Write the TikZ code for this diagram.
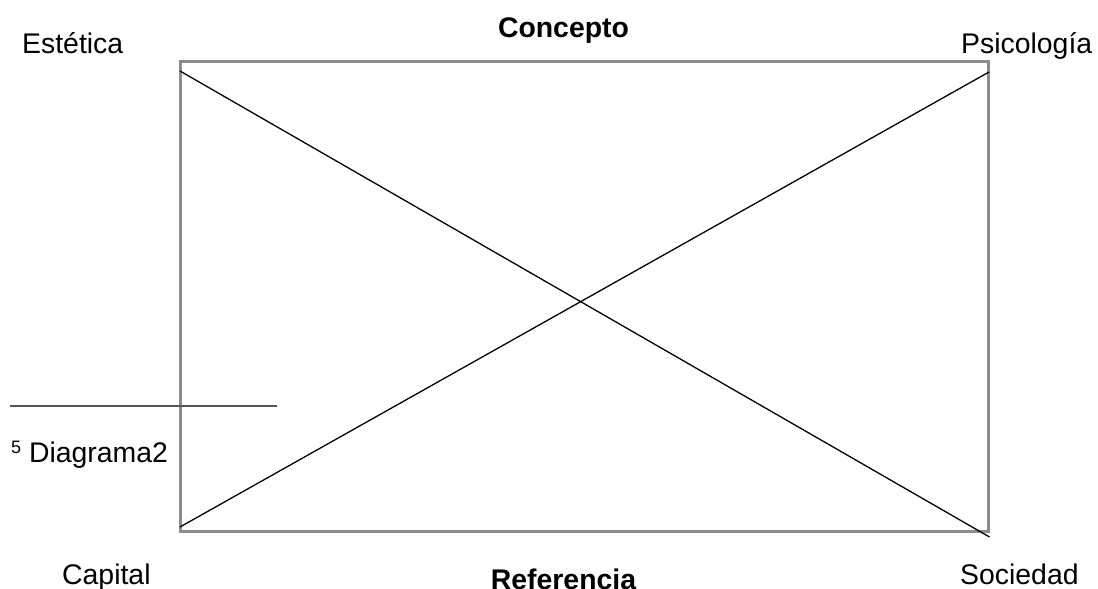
\documentclass[tikz,border=0pt]{standalone}
\usepackage{fontspec}
\setmainfont{Liberation Sans}
\usetikzlibrary{positioning}

\definecolor{boxgray}{HTML}{8C8C8C}
\definecolor{rulegray}{HTML}{555555}

\begin{document}
\begin{tikzpicture}[x=1pt,y=-1pt,line join=miter,
    corner label/.style={inner sep=0pt,anchor=base west,font=\fontsize{28.4}{34}\selectfont},
    title label/.style={inner sep=0pt,anchor=base,font=\fontsize{28.4}{34}\selectfont\bfseries},
    frame line/.style={draw=boxgray,line width=3pt},
    cross line/.style={draw=black,line width=1.3pt}]
  \useasboundingbox (0,0) rectangle (1098,589);

  % frame and its corners
  \draw[frame line] (180,61.5) rectangle (988,531);
  \coordinate (tl) at (180,71);
  \coordinate (tr) at (989,72);
  \coordinate (bl) at (180,527);
  \coordinate (br) at (989.5,537);

  \draw[cross line] (tl) -- (br);
  \draw[cross line] (bl) -- (tr);

  % labels
  \node[corner label] (est) at (22,53) {Estética};
  \node[corner label] (psi) at (961,53) {Psicología};
  \node[corner label] (cap) at (62,584) {Capital};
  \node[corner label] (soc) at (960,584) {Sociedad};
  \node[title label] (con) at (563.5,37) {Concepto};
  \node[title label] (ref) at (563.5,589) {Referencia};

  % footnote
  \coordinate (fnl) at (10,406);
  \coordinate (fnr) at (277,406);
  \draw[draw=rulegray,line width=1.6pt] (fnl) -- (fnr);
  \node[corner label] (fn) at (11,462) {\raisebox{0.6ex}{\fontsize{18}{20}\selectfont 5} Diagrama2};
\end{tikzpicture}
\end{document}
